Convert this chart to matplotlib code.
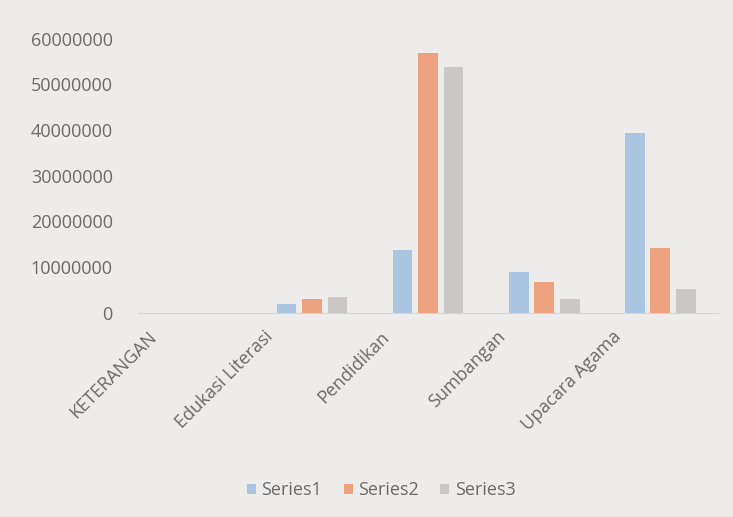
import numpy as np
import matplotlib.pyplot as plt
import matplotlib.transforms as mtransforms

# data
categories = ['KETERANGAN', 'Edukasi Literasi', 'Pendidikan', 'Sumbangan', 'Upacara Agama']
series1 = [0, 2000000, 13800000, 9000000, 39400000]
series2 = [0, 3100000, 56900000, 6800000, 14200000]
series3 = [0, 3500000, 53800000, 3000000, 5300000]
series_names = ['Series1', 'Series2', 'Series3']

colors = ['#a9c5e2', '#eda27f', '#cac7c6']
bg = '#edecea'
txt = '#6a6a6a'

plt.rcParams['font.family'] = ['Open Sans', 'DejaVu Sans']

fig = plt.figure(figsize=(7.33, 5.17), dpi=100, facecolor=bg)
ax = fig.add_axes([0.188, 0.395, 0.792, 0.53])
ax.set_facecolor(bg)

x = np.arange(len(categories))
w = 0.17
step = 0.22
for i, (vals, name) in enumerate(zip([series1, series2, series3], series_names)):
    ax.bar(x + (i - 1) * step, vals, width=w, color=colors[i], label=name)

ax.set_xlim(-0.5, len(categories) - 0.5)
ax.set_ylim(0, 60000000)
ax.set_yticks(np.arange(0, 60000001, 10000000))
ax.set_yticklabels([str(v) for v in range(0, 60000001, 10000000)])
ax.set_xticks(x)
ax.set_xticklabels([])

# rotated category labels, shifted a bit to the left like in the photo
trans = mtransforms.blended_transform_factory(ax.transData, ax.transAxes)
trans = trans + mtransforms.ScaledTranslation(-0.48, -0.15, fig.dpi_scale_trans)
for xi, cat in zip(x, categories):
    ax.text(xi, 0, cat, transform=trans, rotation=45, ha='right', va='top',
            rotation_mode='anchor', color=txt, fontsize=13)

for s in ['top', 'right', 'left']:
    ax.spines[s].set_visible(False)
ax.spines['bottom'].set_color('#d4d3d1')
ax.tick_params(axis='both', length=0, colors=txt, labelsize=13)
ax.tick_params(axis='y', pad=18)

leg = fig.legend(loc='center', bbox_to_anchor=(0.52, 0.052), ncol=3, frameon=False,
                 fontsize=13, handlelength=0.5, handleheight=0.5, handletextpad=0.3,
                 columnspacing=1.2)
for t in leg.get_texts():
    t.set_color(txt)

fig.savefig('out.png', dpi=100, facecolor=bg)
